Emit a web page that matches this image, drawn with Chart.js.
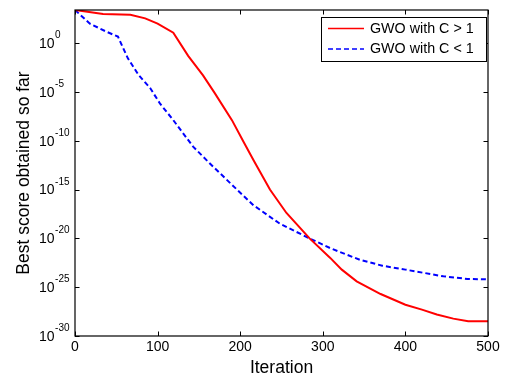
<!DOCTYPE html>
<html>
<head>
<meta charset="utf-8">
<script src="https://cdn.jsdelivr.net/npm/chart.js@4"></script>
<style>
html,body{margin:0;padding:0;background:#fff;}
canvas{display:block;}
</style>
</head>
<body>
<canvas id="c" width="510" height="377"></canvas>
<script>
// ---- data ----
const redIter = [0, 34, 67, 85, 100, 119, 137, 155, 169, 190, 204, 216, 236, 256, 284, 309, 323, 341, 370, 400, 420, 438, 458, 476, 500];
const redVals = [2.5e3, 1e3, 8e2, 3.5e2, 1e2, 12, 5e-2, 5e-4, 8e-6, 1.3e-8, 8e-11, 1.1e-12, 1e-15, 4e-18, 1e-20, 1e-22, 6.3e-24, 4e-25, 2e-26, 1.6e-27, 5e-28, 1.6e-28, 6e-29, 3.2e-29, 3.2e-29];
const blueIter = [0, 18, 38, 52, 64, 77, 91, 103, 119, 143, 163, 188, 216, 248, 284, 309, 345, 372, 400, 446, 475, 500];
const blueVals = [2.5e3, 1e2, 15, 4.7, 2.8e-2, 5.5e-4, 2.5e-5, 6.3e-7, 1.3e-8, 2.5e-11, 5e-13, 4.5e-15, 2.5e-17, 3.2e-19, 1e-20, 1e-21, 6.3e-23, 1.6e-23, 6.3e-24, 1.3e-24, 7e-25, 6.3e-25];
const seriesNames = ['GWO with C > 1', 'GWO with C < 1'];
const xTicks = [0, 100, 200, 300, 400, 500];
const yTickExps = [0, -5, -10, -15, -20, -25, -30];
const xTitle = 'Iteration';
const yTitle = 'Best score obtained so far';

const toPts = (xs, ys) => xs.map((x, i) => ({x: x, y: ys[i]}));

const axesPlugin = {
  id: 'matlabAxes',
  beforeDraw(chart) {
    const ctx = chart.ctx;
    ctx.save();
    ctx.fillStyle = '#fff';
    ctx.fillRect(0, 0, chart.width, chart.height);
    ctx.restore();
  },
  afterDraw(chart) {
    const ctx = chart.ctx;
    const a = chart.chartArea;
    const xs = chart.scales.x, ys = chart.scales.y;
    ctx.save();
    ctx.strokeStyle = '#000';
    ctx.lineWidth = 1.2;
    ctx.strokeRect(a.left, a.top, a.right - a.left, a.bottom - a.top);
    const tl = 4.5;
    ctx.lineWidth = 1;
    ctx.beginPath();
    xTicks.forEach(v => {
      const px = Math.round(xs.getPixelForValue(v)) + 0.5;
      ctx.moveTo(px, a.bottom); ctx.lineTo(px, a.bottom - tl);
      ctx.moveTo(px, a.top); ctx.lineTo(px, a.top + tl);
    });
    yTickExps.forEach(e => {
      const py = Math.round(ys.getPixelForValue(Math.pow(10, e))) + 0.5;
      ctx.moveTo(a.left, py); ctx.lineTo(a.left + tl, py);
      ctx.moveTo(a.right, py); ctx.lineTo(a.right - tl, py);
    });
    ctx.stroke();

    ctx.fillStyle = '#000';
    // x tick labels
    ctx.font = '14px "Liberation Sans", Arial, sans-serif';
    ctx.textAlign = 'center';
    ctx.textBaseline = 'middle';
    xTicks.forEach(v => {
      ctx.fillText(String(v), xs.getPixelForValue(v), a.bottom + 11);
    });
    // y tick labels with superscript exponent
    yTickExps.forEach(e => {
      const py = ys.getPixelForValue(Math.pow(10, e));
      ctx.font = '14px "Liberation Sans", Arial, sans-serif';
      ctx.textAlign = 'left';
      ctx.textBaseline = 'middle';
      ctx.fillText('10', 39, py + 1);
      const w = ctx.measureText('10').width;
      ctx.font = '10px "Liberation Sans", Arial, sans-serif';
      ctx.textBaseline = 'alphabetic';
      ctx.fillText(String(e), 39 + w + 0.5, py - 5);
    });
    // titles
    ctx.font = '17.5px "Liberation Sans", Arial, sans-serif';
    ctx.textAlign = 'center';
    ctx.textBaseline = 'alphabetic';
    ctx.fillText(xTitle, (a.left + a.right) / 2, 373);
    ctx.save();
    ctx.translate(28.5, (a.top + a.bottom) / 2);
    ctx.rotate(-Math.PI / 2);
    ctx.fillText(yTitle, 0, 0);
    ctx.restore();

    // legend
    const lx = 321, ly = 17, lw = 165, lh = 44;
    ctx.fillStyle = '#fff';
    ctx.fillRect(lx, ly, lw, lh);
    ctx.strokeStyle = '#000';
    ctx.lineWidth = 1;
    ctx.strokeRect(lx + 0.5, ly + 0.5, lw, lh);
    chart.data.datasets.forEach((ds, i) => {
      const yy = i === 0 ? 28.5 : 49;
      ctx.strokeStyle = ds.borderColor;
      ctx.lineWidth = 1.6;
      ctx.setLineDash(ds.borderDash || []);
      ctx.beginPath();
      ctx.moveTo(328, yy); ctx.lineTo(364, yy);
      ctx.stroke();
      ctx.setLineDash([]);
      ctx.fillStyle = '#000';
      ctx.font = '14.3px "Liberation Sans", Arial, sans-serif';
      ctx.textAlign = 'left';
      ctx.textBaseline = 'middle';
      ctx.fillText(ds.label, 370, yy + 0.5);
    });
    ctx.restore();
  }
};

new Chart(document.getElementById('c'), {
  type: 'line',
  data: {
    datasets: [
      {label: seriesNames[0], data: toPts(redIter, redVals), borderColor: '#ff0000', borderWidth: 2, pointRadius: 0, tension: 0, fill: false},
      {label: seriesNames[1], data: toPts(blueIter, blueVals), borderColor: '#0000ff', borderWidth: 2, borderDash: [5, 3], pointRadius: 0, tension: 0, fill: false}
    ]
  },
  options: {
    responsive: false,
    animation: false,
    layout: {padding: {left: 75, top: 10, right: 22, bottom: 41}},
    plugins: {legend: {display: false}, tooltip: {enabled: false}},
    scales: {
      x: {type: 'linear', min: 0, max: 500, display: false},
      y: {type: 'logarithmic', min: 1e-30, max: 2.5e3, display: false}
    }
  },
  plugins: [axesPlugin]
});
</script>
</body>
</html>
